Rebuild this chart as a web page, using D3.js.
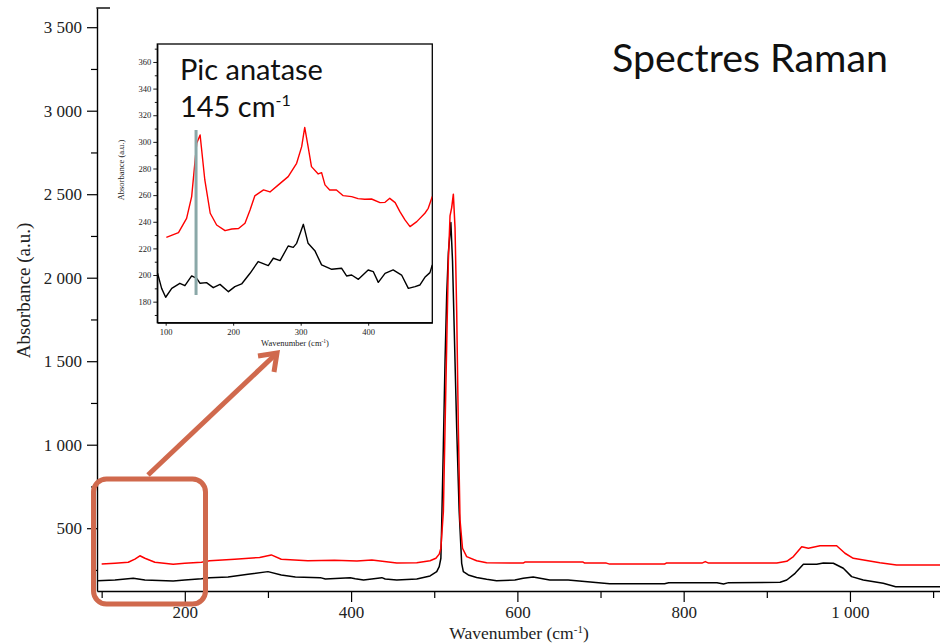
<!DOCTYPE html>
<html><head><meta charset="utf-8">
<script src="https://cdn.jsdelivr.net/npm/d3@7/dist/d3.min.js"></script>
<style>body{margin:0;background:#fff}svg{display:block}</style>
</head><body>
<svg id="chart" width="940" height="643"></svg>
<script>
// ---------- DATA ----------
const redWn  = [100,116,132,140,146,152,164,186,200,220,230,260,290,304,316,348,380,407,425,455,479,495,502,506,508,511,513,515,517,519,521,523,525,527,529,531,534,539,551,563,597,607,609,679,681,707,711,777,779,822,826,830,912,924,932,942,950,964,984,994,1004,1036,1056,1112];
const redAbs = [285,290,296,315,335,320,296,284,290,296,305,314,325,340,314,305,308,303,310,291,293,305,320,345,380,600,1100,1600,2100,2370,2420,2500,2300,1800,1100,550,380,330,305,293,291,291,297,297,291,291,285,285,291,291,300,291,291,302,330,389,380,395,395,350,320,293,280,280];

const blackWn  = [95,116,138,152,186,200,220,230,252,276,300,316,333,363,369,399,405,415,437,441,455,479,495,503,506,508,509,511,513,515,517,520,522,524,527,530,533,535,541,551,563,575,597,607,619,639,661,691,711,777,782,840,848,854,916,924,934,944,960,968,980,992,1002,1016,1040,1055,1112];
const blackAbs = [186,190,200,190,184,190,198,204,208,224,240,220,208,204,196,204,198,190,204,196,190,196,214,240,270,320,530,1000,1500,1900,2150,2330,2100,1700,1100,600,290,240,220,205,194,186,190,200,208,190,190,176,168,168,174,174,166,174,176,190,230,284,284,291,290,260,210,190,170,150,150];

const insetRedWn  = [101,119,131,138.5,146,151,158,166,175.5,188,198,208,217.5,225,232,245,254.5,267,281.5,294,301.5,306,311,316,326,331,336,343,353,363,375.5,385,395,405,417.5,425,432,440,447,454.5,462,472,484,489,495];
const insetRedAbs = [228.3,231.8,242.6,258.9,298.9,305.2,271.4,246.4,237.6,233.3,234.6,234.9,238.9,248.9,259.4,263.9,262.4,267.7,273.9,283.9,296.4,310.9,296.4,281.4,275.9,276.9,267.7,263.9,263.9,259.6,258.9,257.4,256.9,257.1,254.4,254.6,257.6,254.4,247.6,241.4,236.4,240.1,246.4,250.1,258.9];

const insetBlackWn  = [88,94,100,109,121,128.5,138.5,146,151,160.5,170.5,180.5,193,202.5,212.5,225,237,252,259.5,269.5,281.5,289,294,304,311,321,331,346,360.5,368,375.5,385.5,400,407.5,415,425,437,449.5,459.5,469.5,476.5,484,491.5,495];
const insetBlackAbs = [201.3,190.0,183.3,190.0,193.8,192.0,199.3,197.5,193.8,194.3,190.5,193.0,187.5,191.3,193.3,201.3,210.1,207.1,212.6,210.8,221.8,220.8,223.8,238.1,223.8,218.3,207.6,204.3,205.1,199.3,200.0,196.8,203.8,202.6,194.5,201.3,203.8,200.0,190.0,191.3,192.5,198.3,201.8,207.5];

const mainXTicks  = [200,400,600,800,1000];
const mainXMinor  = [100,300,500,700,900,1100];
const mainYTicks  = [500,1000,1500,2000,2500,3000,3500];
const mainYMinor  = [250,750,1250,1750,2250,2750,3250];
const insetXTicks = [100,200,300,400];
const insetYTicks = [180,200,220,240,260,280,300,320,340,360];
const insetYMinor = [170,190,210,230,250,270,290,310,330,350,370];
const anataseWn   = 145;

const titleText  = "Spectres Raman";
const noteLine1  = "Pic anatase";
const noteLine2  = "145 cm";
const xLabelText = "Wavenumber (cm";
const yLabelText = "Absorbance (a.u.)";

// ---------- DRAW ----------
const svg = d3.select("#chart");
const serif = "'Liberation Serif','Times New Roman',serif";
const sans = "Lato,'Open Sans',sans-serif";
const loc = d3.formatLocale({decimal:",", thousands:"\u00a0", grouping:[3], currency:["",""]});
const fmt = loc.format(",d");

const x = d3.scaleLinear().domain([94.4, 1108.3]).range([97, 940]);
const y = d3.scaleLinear().domain([124, 3615]).range([591, 8]);

svg.append("clipPath").attr("id","mclip").append("rect")
  .attr("x",97).attr("y",0).attr("width",843).attr("height",591);

const line = d3.line().x(d=>x(d[0])).y(d=>y(d[1]));
const gMain = svg.append("g").attr("clip-path","url(#mclip)");
gMain.append("path").datum(d3.zip(blackWn, blackAbs)).attr("d", line)
  .attr("fill","none").attr("stroke","#000").attr("stroke-width",1.5).attr("stroke-linejoin","round");
gMain.append("path").datum(d3.zip(redWn, redAbs)).attr("d", line)
  .attr("fill","none").attr("stroke","#ff0000").attr("stroke-width",1.5).attr("stroke-linejoin","round");

// main axes
const gx = svg.append("g").attr("transform","translate(0,591)");
gx.call(d3.axisBottom(x).tickValues(mainXTicks).tickSize(11).tickSizeOuter(0).tickFormat(fmt).tickPadding(4));
const gxm = svg.append("g").attr("transform","translate(0,591)");
gxm.call(d3.axisBottom(x).tickValues(mainXMinor).tickSize(7).tickSizeOuter(0).tickFormat(""));
gxm.select(".domain").remove();
const gy = svg.append("g").attr("transform","translate(97,0)");
gy.call(d3.axisLeft(y).tickValues(mainYTicks).tickSize(10).tickSizeOuter(0).tickFormat(fmt).tickPadding(5));
const gym = svg.append("g").attr("transform","translate(97,0)");
gym.call(d3.axisLeft(y).tickValues(mainYMinor).tickSize(6).tickSizeOuter(0).tickFormat(""));
gym.select(".domain").remove();
svg.selectAll(".domain").attr("stroke","#000").attr("stroke-width",1.4);
svg.selectAll(".tick line").attr("stroke","#000").attr("stroke-width",1.2);
gx.selectAll("text").attr("font-family",serif).attr("font-size",17).attr("fill","#222");
gy.selectAll("text").attr("font-family",serif).attr("font-size",17).attr("fill","#222");
svg.append("line").attr("x1",96.3).attr("x2",110).attr("y1",8).attr("y2",8).attr("stroke","#000").attr("stroke-width",1.4);

// axis titles
const xl = svg.append("text").attr("x",519).attr("y",639).attr("text-anchor","middle")
  .attr("font-family",serif).attr("font-size",17.5).attr("fill","#222");
xl.append("tspan").text(xLabelText);
xl.append("tspan").attr("dy",-6).attr("font-size",11).text("-1");
xl.append("tspan").attr("dy",6).text(")");
svg.append("text").attr("transform","translate(30,290.5) rotate(-90)").attr("text-anchor","middle")
  .attr("font-family",serif).attr("font-size",19).attr("fill","#222").text(yLabelText);

// title
const tt = svg.append("text").attr("x",612).attr("y",72).attr("font-family",sans)
  .attr("font-size",36).attr("fill","#111").text(titleText);
const tw = tt.node().getComputedTextLength();
tt.attr("font-size", 36*276/tw);

// ---------- INSET ----------
const ix = d3.scaleLinear().domain([87.6, 495]).range([157.3, 432.3]);
const iy = d3.scaleLinear().domain([164.2, 373.5]).range([322.7, 44]);
const gi = svg.append("g");
gi.append("rect").attr("x",157.3).attr("y",44).attr("width",275).attr("height",278.7)
  .attr("fill","#fff").attr("stroke","#000").attr("stroke-width",1.3);
svg.append("clipPath").attr("id","iclip").append("rect")
  .attr("x",157.3).attr("y",44).attr("width",275).attr("height",278.7);
const iline = d3.line().x(d=>ix(d[0])).y(d=>iy(d[1]));
const gic = gi.append("g").attr("clip-path","url(#iclip)");
gic.append("path").datum(d3.zip(insetBlackWn, insetBlackAbs)).attr("d", iline)
  .attr("fill","none").attr("stroke","#000").attr("stroke-width",1.4).attr("stroke-linejoin","round");
gic.append("path").datum(d3.zip(insetRedWn, insetRedAbs)).attr("d", iline)
  .attr("fill","none").attr("stroke","#ff0000").attr("stroke-width",1.4).attr("stroke-linejoin","round");
// anatase marker
gi.append("rect").attr("x", ix(anataseWn)-1.5).attr("y",130).attr("width",3).attr("height",165)
  .attr("fill","#8aa8a8");

const gix = gi.append("g").attr("transform","translate(0,322.7)");
gix.call(d3.axisBottom(ix).tickValues(insetXTicks).tickSize(3).tickSizeOuter(0).tickPadding(3));
const giy = gi.append("g").attr("transform","translate(157.3,0)");
giy.call(d3.axisLeft(iy).tickValues(insetYTicks).tickSize(4).tickSizeOuter(0).tickPadding(2));
const giym = gi.append("g").attr("transform","translate(157.3,0)");
giym.call(d3.axisLeft(iy).tickValues(insetYMinor).tickSize(2.5).tickSizeOuter(0).tickFormat(""));
giym.select(".domain").remove();
gi.selectAll(".domain").attr("stroke","#000").attr("stroke-width",1.2);
gi.selectAll(".tick line").attr("stroke","#000").attr("stroke-width",0.9);
gi.selectAll(".tick text").attr("font-family",serif).attr("font-size",8.5).attr("fill","#222");

const ixl = gi.append("text").attr("x",295).attr("y",346).attr("text-anchor","middle")
  .attr("font-family",serif).attr("font-size",8.5).attr("fill","#222");
ixl.append("tspan").text(xLabelText);
ixl.append("tspan").attr("dy",-3).attr("font-size",5.5).text("-1");
ixl.append("tspan").attr("dy",3).text(")");
gi.append("text").attr("transform","translate(124,170) rotate(-90)").attr("text-anchor","middle")
  .attr("font-family",serif).attr("font-size",8.5).attr("fill","#222").text(yLabelText);

// annotation text
const n1 = gi.append("text").attr("x",180).attr("y",80).attr("font-family",sans)
  .attr("font-size",26).attr("fill","#111").text(noteLine1);
const n1w = n1.node().getComputedTextLength();
n1.attr("font-size", 26*143/n1w);
const n2 = gi.append("text").attr("x",180).attr("y",117).attr("font-family",sans)
  .attr("font-size",26*143/n1w).attr("fill","#111");
n2.append("tspan").text(noteLine2);
n2.append("tspan").attr("dy",-11).attr("font-size",16).text("-1");

// ---------- CALLOUT ----------
const orange = "#d0694d";
svg.append("rect").attr("x",93.5).attr("y",479).attr("width",112).attr("height",125).attr("rx",13)
  .attr("fill","none").attr("stroke",orange).attr("stroke-width",5);
svg.append("line").attr("x1",148).attr("y1",475).attr("x2",276).attr("y2",354)
  .attr("stroke",orange).attr("stroke-width",5);
svg.append("path").attr("d","M258,356 L277,353 L274,372")
  .attr("fill","none").attr("stroke",orange).attr("stroke-width",5).attr("stroke-linejoin","miter");
</script>
</body></html>
